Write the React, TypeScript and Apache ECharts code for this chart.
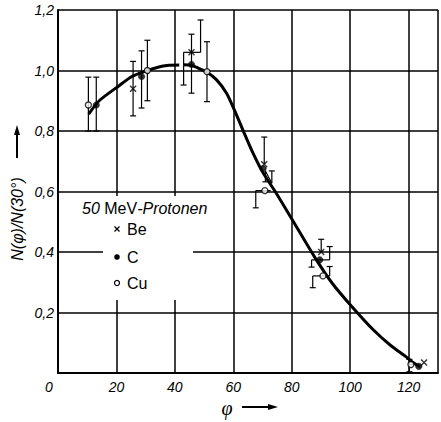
import React, { useEffect, useRef } from "react";
import * as echarts from "echarts";

// Measured points (angle φ in degrees, ratio N(φ)/N(30°))
const beX = [25.7, 45.7, 70.6, 90.1, 125.3];
const beY = [0.94, 1.06, 0.69, 0.40, 0.035];
const cX = [13.1, 28.6, 45.7, 70.2, 89.6, 123.5];
const cY = [0.886, 0.98, 1.02, 0.675, 0.374, 0.022];
const cuX = [10.4, 30.6, 51.0, 70.8, 90.7, 120.8];
const cuY = [0.886, 1.0, 0.996, 0.603, 0.321, 0.028];

// Error bars: [x, low, high, capLow, capHigh]
const errorBars: number[][] = [
  [10.4, 0.8, 0.978, 1, 1],
  [13.1, 0.8, 0.978, 1, 1],
  [25.7, 0.85, 1.03, 1, 1],
  [28.6, 0.876, 1.065, 1, 1],
  [30.6, 0.9, 1.1, 1, 1],
  [48.8, 1.06, 1.167, 0, 1],
  [43.0, 0.952, 1.06, 1, 0],
  [45.7, 0.925, 1.12, 1, 1],
  [51.0, 0.897, 1.095, 1, 1],
  [70.6, 0.69, 0.78, 0, 1],
  [71.0, 0.632, 0.668, 1, 0],
  [73.2, 0.627, 0.668, 0, 1],
  [67.7, 0.546, 0.603, 1, 0],
  [90.1, 0.4, 0.442, 0, 1],
  [93.0, 0.374, 0.418, 0, 1],
  [86.8, 0.35, 0.374, 1, 0],
  [93.0, 0.321, 0.352, 0, 1],
  [87.2, 0.282, 0.321, 1, 0],
  [120.3, 0.004, 0.045, 1, 1],
];
// Bracket connectors: [x1, y1, x2, y2]
const connectors: number[][] = [
  [43.0, 1.06, 48.8, 1.06],
  [71.0, 0.668, 73.2, 0.627],
  [67.7, 0.603, 72.8, 0.603],
  [86.8, 0.374, 93.0, 0.374],
  [87.2, 0.321, 93.0, 0.321],
  [120.3, 0.028, 122.0, 0.028],
];

// Fitted curve (null = gap)
const curveX = [10.5, 14.1, 20.8, 25.3, 30, 34.2, 38, 41.5, 42.2, 43, 45.7, 48, 51, 54.3, 57.7, 60.4, 63.3, 66.6, 70, 74.4, 80.6, 87.8, 94, 100.1, 108, 114, 119.1, 121.4, 124];
const curveY: (number | null)[] = [0.856, 0.9, 0.949, 0.98, 0.998, 1.011, 1.017, 1.018, null, 1.019, 1.017, 1.008, 0.994, 0.969, 0.925, 0.869, 0.803, 0.73, 0.665, 0.599, 0.5, 0.384, 0.295, 0.225, 0.142, 0.09, 0.054, 0.036, 0.02];

const xTicks = [20, 40, 60, 80, 100, 120];

const App: React.FC = () => {
  const ref = useRef<HTMLDivElement>(null);
  useEffect(() => {
    if (!ref.current) return;
    document.body.style.margin = "0";
    const chart = echarts.init(ref.current, undefined, { renderer: "svg" });
    const black = "#000";
    const tickFont = { fontFamily: "Liberation Sans", fontStyle: "italic" as const, fontSize: 14, color: black };

    const crossPath = "path://M0,0L10,10M10,0L0,10";

    const option: any = {
      animation: false,
      backgroundColor: "#fff",
      grid: { left: 58, top: 10, right: -5, bottom: 49, containLabel: false },
      xAxis: {
        type: "value",
        min: 0,
        max: 130.08,
        interval: 20,
        axisLine: { show: true, onZero: false, lineStyle: { color: black, width: 2 } },
        axisTick: { show: false },
        splitLine: { show: true, lineStyle: { color: black, width: 1.5 } },
        axisLabel: {
          ...tickFont,
          margin: 7,
          formatter: (v: number) => (xTicks.indexOf(Math.round(v)) >= 0 && Math.abs(v - Math.round(v)) < 1e-6 ? String(Math.round(v)) : ""),
        },
      },
      yAxis: {
        type: "value",
        min: 0,
        max: 1.2,
        interval: 0.2,
        axisLine: { show: true, lineStyle: { color: black, width: 2 } },
        axisTick: { show: false },
        splitLine: { show: true, lineStyle: { color: black, width: 1.5 } },
        axisLabel: {
          ...tickFont,
          margin: 4,
          formatter: (v: number) => (v === 0 ? "" : v.toFixed(1).replace(".", ",")),
        },
      },
      series: [
        {
          type: "line",
          data: curveX.map((x, i) => [x, curveY[i] === null ? "-" : curveY[i]]),
          smooth: 0.25,
          connectNulls: false,
          showSymbol: false,
          symbol: "none",
          lineStyle: { color: black, width: 3 },
          z: 3,
        },
        {
          type: "custom",
          data: errorBars,
          encode: { x: 0, y: [1, 2] },
          z: 4,
          renderItem: (_p: any, api: any) => {
            const x = api.value(0);
            const lo = api.value(1);
            const hi = api.value(2);
            const cl = api.value(3);
            const ch = api.value(4);
            const a = api.coord([x, lo]);
            const b = api.coord([x, hi]);
            const st = { stroke: black, lineWidth: 1.2 };
            const w = 3;
            const children: any[] = [
              { type: "line", shape: { x1: a[0], y1: a[1], x2: b[0], y2: b[1] }, style: st },
            ];
            if (ch) children.push({ type: "line", shape: { x1: b[0] - w, y1: b[1], x2: b[0] + w, y2: b[1] }, style: st });
            if (cl) children.push({ type: "line", shape: { x1: a[0] - w, y1: a[1], x2: a[0] + w, y2: a[1] }, style: st });
            return { type: "group", children };
          },
        },
        {
          type: "custom",
          data: connectors,
          encode: { x: [0, 2], y: [1, 3] },
          z: 4,
          renderItem: (_p: any, api: any) => {
            const a = api.coord([api.value(0), api.value(1)]);
            const b = api.coord([api.value(2), api.value(3)]);
            return {
              type: "line",
              shape: { x1: a[0], y1: a[1], x2: b[0], y2: b[1] },
              style: { stroke: black, lineWidth: 1.2 },
            };
          },
        },
        {
          name: "Be",
          type: "scatter",
          data: beX.map((x, i) => [x, beY[i]]),
          symbol: crossPath,
          symbolSize: 6,
          itemStyle: { color: "none", borderColor: black, borderWidth: 1.4 },
          z: 5,
        },
        {
          name: "C",
          type: "scatter",
          data: cX.map((x, i) => [x, cY[i]]),
          symbol: "circle",
          symbolSize: 6.5,
          itemStyle: { color: black, borderColor: black, borderWidth: 0.5 },
          z: 5,
        },
        {
          name: "Cu",
          type: "scatter",
          data: cuX.map((x, i) => [x, cuY[i]]),
          symbol: "circle",
          symbolSize: 6,
          itemStyle: { color: "#fff", borderColor: black, borderWidth: 1.3 },
          z: 6,
        },
      ],
      graphic: [
        { type: "rect", shape: { x: 78, y: 196, width: 146, height: 21 }, style: { fill: "#fff" }, z: 1 },
        { type: "rect", shape: { x: 103, y: 196, width: 90, height: 104 }, style: { fill: "#fff" }, z: 1 },
        {
          type: "text",
          x: 82,
          y: 208,
          z: 10,
          style: {
            text: "{i|50 }{n|MeV}{i|-Protonen}",
            verticalAlign: "middle",
            rich: {
              i: { fontFamily: "Liberation Sans", fontStyle: "italic", fontSize: 16, fill: black },
              n: { fontFamily: "Liberation Sans", fontSize: 16, fill: black },
            },
          },
        },
        { type: "line", shape: { x1: 114.5, y1: 226.5, x2: 119.5, y2: 231.5 }, style: { stroke: black, lineWidth: 1.2 }, z: 10 },
        { type: "line", shape: { x1: 119.5, y1: 226.5, x2: 114.5, y2: 231.5 }, style: { stroke: black, lineWidth: 1.2 }, z: 10 },
        { type: "circle", shape: { cx: 117, cy: 257, r: 2.8 }, style: { fill: black }, z: 10 },
        { type: "circle", shape: { cx: 117, cy: 283, r: 2.5 }, style: { fill: "#fff", stroke: black, lineWidth: 1.2 }, z: 10 },
        { type: "text", x: 127, y: 229, z: 10, style: { text: "Be", fontFamily: "Liberation Sans", fontSize: 16, fill: black, verticalAlign: "middle" } },
        { type: "text", x: 127, y: 257, z: 10, style: { text: "C", fontFamily: "Liberation Sans", fontSize: 16, fill: black, verticalAlign: "middle" } },
        { type: "text", x: 127, y: 283, z: 10, style: { text: "Cu", fontFamily: "Liberation Sans", fontSize: 16, fill: black, verticalAlign: "middle" } },
        { type: "text", x: 49, y: 387, z: 10, style: { text: "0", fontFamily: "Liberation Sans", fontStyle: "italic", fontSize: 14, fill: black, align: "center", verticalAlign: "middle" } },
        {
          type: "text",
          x: 17,
          y: 219,
          rotation: Math.PI / 2,
          z: 10,
          style: { text: "N(φ)/N(30°)", fontFamily: "Liberation Sans", fontStyle: "italic", fontSize: 16, fill: black, align: "center", verticalAlign: "middle" },
        },
        { type: "line", shape: { x1: 17, y1: 158, x2: 17, y2: 133 }, style: { stroke: black, lineWidth: 2 }, z: 10 },
        { type: "polygon", shape: { points: [[17, 125], [14, 135], [20, 135]] }, style: { fill: black }, z: 10 },
        { type: "text", x: 227, y: 408, z: 10, style: { text: "φ", fontFamily: "Liberation Serif", fontStyle: "italic", fontSize: 20, fill: black, align: "center", verticalAlign: "middle" } },
        { type: "line", shape: { x1: 242, y1: 407, x2: 270, y2: 407 }, style: { stroke: black, lineWidth: 2 }, z: 10 },
        { type: "polygon", shape: { points: [[278, 407], [268, 404], [268, 410]] }, style: { fill: black }, z: 10 },
      ],
    };
    chart.setOption(option);
    return () => chart.dispose();
  }, []);
  return <div ref={ref} style={{ position: "absolute", left: 0, top: 0, width: 441, height: 422 }} />;
};

export default App;
